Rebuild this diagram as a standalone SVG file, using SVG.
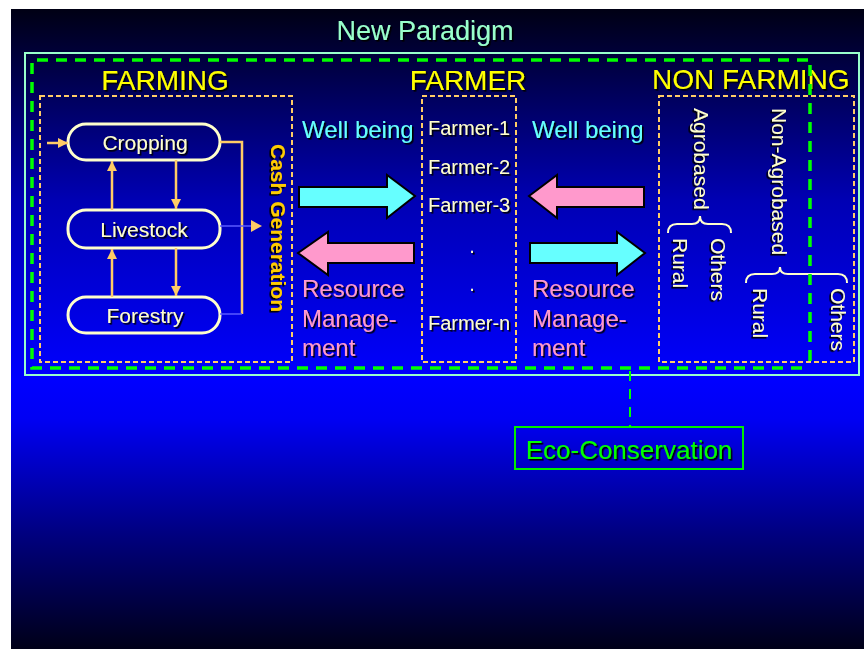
<svg xmlns="http://www.w3.org/2000/svg" width="864" height="649" viewBox="0 0 864 649">
  <defs>
    <linearGradient id="bg" gradientUnits="userSpaceOnUse" x1="0" y1="9" x2="0" y2="649">
      <stop offset="0" stop-color="#000014"/>
      <stop offset="0.3" stop-color="#0000b4"/>
      <stop offset="0.58" stop-color="#0000ff"/>
      <stop offset="0.64" stop-color="#0000f4"/>
      <stop offset="0.82" stop-color="#000080"/>
      <stop offset="1" stop-color="#000018"/>
    </linearGradient>
    <filter id="shadow" x="-10%" y="-20%" width="130%" height="150%">
      <feDropShadow dx="1.6" dy="1.6" stdDeviation="0" flood-color="#000000" flood-opacity="1"/>
    </filter>
    <marker id="ah" viewBox="0 0 10 10" refX="10" refY="5" markerWidth="10" markerHeight="10" markerUnits="userSpaceOnUse" orient="auto">
      <path d="M0,0 L10,5 L0,10 Z" fill="#ffcc66"/>
    </marker>
    <style>
      .hdr { font-family: "Liberation Sans", Arial, sans-serif; font-size: 28px; fill: #ffff00; filter: url(#shadow); }
      .node rect { fill: none; stroke: #ffffcc; stroke-width: 3; }
      .node text { font-family: "Liberation Sans", Arial, sans-serif; font-size: 21px; fill: #ffffcc; text-anchor: middle; filter: url(#shadow); }
      .dotbox { fill: none; stroke: #ffcc66; stroke-width: 2; stroke-dasharray: 5 3; }
      .flow { fill: none; stroke: #ffcc66; stroke-width: 2.5; }
      .faint { fill: none; stroke: #5a5aff; stroke-width: 1.5; }
      .lbl { font-family: "Liberation Sans", Arial, sans-serif; font-size: 24px; filter: url(#shadow); }
      .well { fill: #66ffff; }
      .res { fill: #ff99cc; }
      .fm { font-family: "Liberation Sans", Arial, sans-serif; font-size: 20px; fill: #ffffcc; filter: url(#shadow); }
      .vt { font-family: "Liberation Sans", Arial, sans-serif; font-size: 21px; fill: #ffffcc; filter: url(#shadow); }
      .brace { fill: none; stroke: #ffffcc; stroke-width: 2; }
      .blk { stroke: #000000; stroke-width: 2; stroke-linejoin: miter; }
      .green { fill: none; stroke: #00ff00; stroke-width: 3.5; stroke-dasharray: 11 8; }
    </style>
  </defs>

  <!-- page and slide background -->
  <rect x="0" y="0" width="864" height="649" fill="#ffffff"/>
  <rect x="11" y="9" width="853" height="640" fill="url(#bg)"/>

  <!-- title and outer frame -->
  <text x="425" y="40" font-family="Liberation Sans, Arial, sans-serif" font-size="27" fill="#99ffcc" text-anchor="middle" filter="url(#shadow)">New Paradigm</text>
  <rect x="25" y="53" width="834" height="322" fill="none" stroke="#99ffcc" stroke-width="2"/>

  <!-- FARMING section -->
  <g id="farming">
    <text class="hdr" x="165" y="90" text-anchor="middle">FARMING</text>
    <rect class="dotbox" x="40" y="96" width="252" height="266"/>
  </g>

  <g id="cropping" class="node">
    <rect x="68" y="124" width="152" height="36" rx="18" ry="18"/>
    <text x="145" y="149.5">Cropping</text>
  </g>
  <g id="livestock" class="node">
    <rect x="68" y="210" width="152" height="38" rx="18" ry="18"/>
    <text x="144" y="236.5">Livestock</text>
  </g>
  <g id="forestry" class="node">
    <rect x="68" y="297" width="152" height="36" rx="18" ry="18"/>
    <text x="145" y="322.5">Forestry</text>
  </g>

  <g id="cash-generation">
    <text x="271" y="228" transform="rotate(90 271 228)" text-anchor="middle" font-family="Liberation Sans, Arial, sans-serif" font-size="21" font-weight="bold" fill="#ffcc00" filter="url(#shadow)">Cash Generation</text>
  </g>

  <!-- FARMER section -->
  <g id="farmer">
    <text class="hdr" x="468" y="90" text-anchor="middle">FARMER</text>
    <rect class="dotbox" x="422" y="96" width="94" height="266"/>
    <text class="fm" x="428" y="135">Farmer-1</text>
    <text class="fm" x="428" y="174">Farmer-2</text>
    <text class="fm" x="428" y="212">Farmer-3</text>
    <text class="fm" x="472" y="253" text-anchor="middle">.</text>
    <text class="fm" x="472" y="291" text-anchor="middle">.</text>
    <text class="fm" x="428" y="330">Farmer-n</text>
  </g>

  <!-- flows between farming, farmer and non farming -->
  <g id="exchange-left">
    <text class="lbl well" x="302" y="138">Well being</text>
    <polygon class="blk" fill="#66ffff" points="299,187 387,187 387,175 415,196 387,218 387,207 299,207"/>
    <polygon class="blk" fill="#ff99cc" points="298,253 328,232 328,243 414,243 414,263 328,263 328,275"/>
    <text class="lbl res" x="302" y="297">Resource</text>
    <text class="lbl res" x="302" y="327">Manage-</text>
    <text class="lbl res" x="302" y="356">ment</text>
  </g>
  <g id="exchange-right">
    <text class="lbl well" x="532" y="138">Well being</text>
    <polygon class="blk" fill="#ff99cc" points="529,196 557,175 557,187 644,187 644,207 557,207 557,218"/>
    <polygon class="blk" fill="#66ffff" points="530,243 617,243 617,232 645,253 617,275 617,263 530,263"/>
    <text class="lbl res" x="532" y="297">Resource</text>
    <text class="lbl res" x="532" y="327">Manage-</text>
    <text class="lbl res" x="532" y="356">ment</text>
  </g>

  <!-- NON FARMING section -->
  <g id="non-farming">
    <text class="hdr" x="652" y="89">NON FARMING</text>
    <rect class="dotbox" x="659" y="96" width="195" height="266"/>
    <text class="vt" x="694" y="108" transform="rotate(90 694 108)">Agrobased</text>
    <path class="brace" d="M668,233 Q668,224 677,224 L692,224 Q700,224 700,216 Q700,224 708,224 L722,224 Q731,224 731,233"/>
    <text class="vt" x="673" y="238" transform="rotate(90 673 238)">Rural</text>
    <text class="vt" x="711" y="238" transform="rotate(90 711 238)">Others</text>
    <text class="vt" x="772" y="108" transform="rotate(90 772 108)">Non-Agrobased</text>
    <path class="brace" d="M746,283 Q746,274 755,274 L772,274 Q780,274 780,267 Q780,274 788,274 L838,274 Q847,274 847,283"/>
    <text class="vt" x="753" y="288" transform="rotate(90 753 288)">Rural</text>
    <text class="vt" x="831" y="288" transform="rotate(90 831 288)">Others</text>
  </g>

  <g id="eco-conservation">
    <rect x="515" y="427" width="228" height="42" fill="none" stroke="#00ee00" stroke-width="2"/>
    <text x="629" y="459" text-anchor="middle" font-family="Liberation Sans, Arial, sans-serif" font-size="26" fill="#00ff00" filter="url(#shadow)">Eco-Conservation</text>
  </g>

  <!-- connectors -->
  <g id="connectors">
    <line class="flow" x1="47" y1="143" x2="68" y2="143" marker-end="url(#ah)"/>
    <line class="flow" x1="112" y1="210" x2="112" y2="161" marker-end="url(#ah)"/>
    <line class="flow" x1="176" y1="160" x2="176" y2="209" marker-end="url(#ah)"/>
    <line class="flow" x1="112" y1="297" x2="112" y2="249" marker-end="url(#ah)"/>
    <line class="flow" x1="176" y1="248" x2="176" y2="296" marker-end="url(#ah)"/>
    <polyline class="flow" points="220,142 242,142 242,314"/>
    <line class="faint" x1="220" y1="314" x2="242" y2="314"/>
    <line class="faint" x1="220" y1="226" x2="252" y2="226"/>
    <path d="M251,220 L262,226 L251,232 Z" fill="#ffcc66"/>
    <!-- eco-conservation boundary -->
    <path class="green" d="M808,60 L32,60 L32,368 L810,368"/>
    <line class="green" x1="810" y1="65" x2="810" y2="362"/>
    <line x1="630" y1="371" x2="630" y2="427" stroke="#00ff00" stroke-width="2" stroke-dasharray="10 8"/>
  </g>
</svg>
